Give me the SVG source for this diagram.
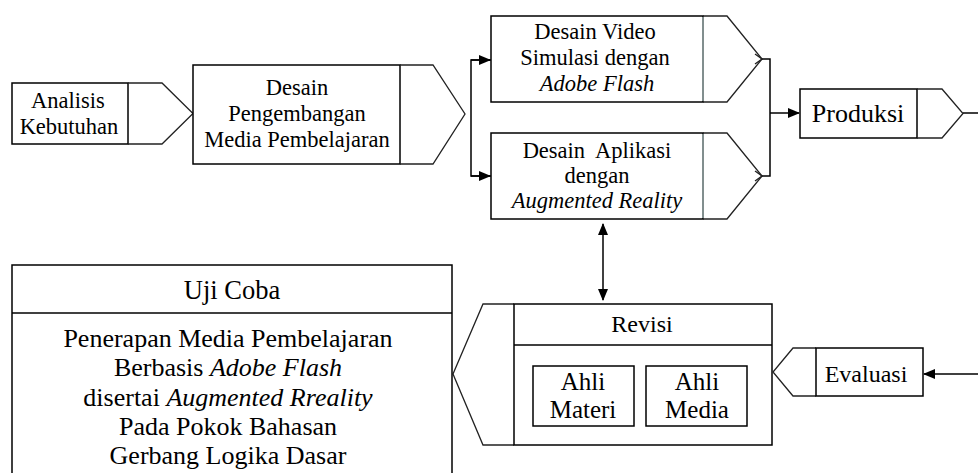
<svg xmlns="http://www.w3.org/2000/svg" width="978" height="473" viewBox="0 0 978 473">
<style>
.b{fill:#fff;stroke:#000;stroke-width:1.5}
.c{fill:none;stroke:#222;stroke-width:1.3}
.g{fill:none;stroke:#9aa;stroke-width:1.5}
.l{fill:none;stroke:#000;stroke-width:1.5}
text{font-family:"Liberation Serif","Times New Roman",serif;fill:#000;text-anchor:middle}
.s22{font-size:22.5px}
.s24{font-size:24px}
.s25{font-size:25px}
.s26{font-size:26px}
.s265{font-size:26.5px}
.i{font-style:italic}
</style>
<defs>
<marker id="ah" markerWidth="12" markerHeight="10" refX="11" refY="5" orient="auto-start-reverse" markerUnits="userSpaceOnUse">
<path d="M0,0 L12,5 L0,10 Z" fill="#000"/>
</marker>
</defs>
<g id="connectors">
<path class="l" d="M491,60 H471 V176 H491" />
<path class="l" d="M471,60 H490" marker-end="url(#ah)"/>
<path class="l" d="M471,176 H490" marker-end="url(#ah)"/>
<path class="l" d="M762,59 H770 V176 H762"/>
<path class="c" d="M755,54 L762,59 L755,64 M755,171 L762,176 L755,181"/>
<path class="l" d="M770,113 H799" marker-end="url(#ah)"/>
<path class="l" d="M963,113 H978"/>
<path class="l" d="M603,224 V300" marker-start="url(#ah)" marker-end="url(#ah)"/>
<path class="l" d="M978,374 H924" marker-end="url(#ah)"/>
</g>
<g id="analisis">
<rect class="b" x="12" y="83" width="116" height="61"/>
<path class="c" d="M128,83 H162 L193,113.5 L162,144 H128"/>
<text class="s22" x="68" y="108">Analisis</text>
<text class="s22" x="69" y="134">Kebutuhan</text>
</g>
<g id="desain-pengembangan">
<rect class="b" x="193" y="65" width="207" height="99"/>
<path class="c" d="M400,65 H433 L465,114 L433,164 H400"/>
<text class="s22" x="297" y="95">Desain</text>
<text class="s22" x="297" y="121">Pengembangan</text>
<text class="s22" x="297" y="147">Media Pembelajaran</text>
</g>
<g id="desain-video">
<rect class="b" x="491" y="16" width="212" height="86"/>
<line class="g" x1="703" y1="17" x2="703" y2="101"/>
<path class="c" d="M703,16 H727 L762,59 L727,102 H703"/>
<text class="s22" x="595" y="39">Desain Video</text>
<text class="s22" x="595" y="65">Simulasi dengan</text>
<text class="s22 i" x="597" y="91">Adobe Flash</text>
</g>
<g id="desain-aplikasi">
<rect class="b" x="491" y="133" width="212" height="86"/>
<line class="g" x1="703" y1="134" x2="703" y2="218"/>
<path class="c" d="M703,133 H727 L762,176 L727,219 H703"/>
<text class="s22" x="597" y="158" xml:space="preserve">Desain  Aplikasi</text>
<text class="s22" x="597" y="183">dengan</text>
<text class="s22 i" x="597" y="208">Augmented Reality</text>
</g>
<g id="produksi">
<rect class="b" x="800" y="89" width="117" height="49"/>
<path class="c" d="M917,89 H942 L963,113.5 L942,138 H917"/>
<text class="s26" x="858" y="122">Produksi</text>
</g>
<g id="revisi">
<path class="c" d="M514,304 H483 L453,374 L483,445 H514"/>
<rect class="b" x="514" y="304" width="258" height="141"/>
<line class="l" x1="514" y1="345" x2="772" y2="345"/>
<text class="s24" x="642" y="332">Revisi</text>
<rect class="b" x="533" y="366" width="101" height="60"/>
<text class="s25" x="583" y="390">Ahli</text>
<text class="s25" x="583" y="418">Materi</text>
<rect class="b" x="646" y="366" width="101" height="60"/>
<text class="s25" x="697" y="390">Ahli</text>
<text class="s25" x="697" y="418">Media</text>
</g>
<g id="evaluasi">
<path class="c" d="M816,348 H793 L773,372 L793,396 H816"/>
<rect class="b" x="816" y="348" width="107" height="48"/>
<text class="s24" x="866" y="382">Evaluasi</text>
</g>
<g id="uji-coba">
<rect class="b" x="12" y="265" width="440" height="220"/>
<line class="l" x1="12" y1="313" x2="452" y2="313"/>
<text class="s265" x="232" y="299">Uji Coba</text>
<text class="s26" x="228" y="347">Penerapan Media Pembelajaran</text>
<text class="s26" x="228" y="376">Berbasis <tspan class="i">Adobe Flash</tspan></text>
<text class="s26" x="228" y="406">disertai <tspan class="i">Augmented Rreality</tspan></text>
<text class="s26" x="228" y="435">Pada Pokok Bahasan</text>
<text class="s26" x="228" y="464">Gerbang Logika Dasar</text>
</g>
</svg>
